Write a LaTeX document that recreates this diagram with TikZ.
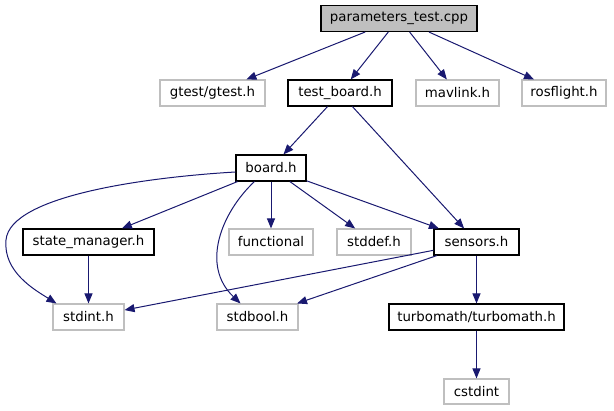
\documentclass[tikz,border=0pt]{standalone}
\usepackage{fontspec}
\setmainfont{DejaVu Sans}
\usetikzlibrary{arrows.meta,calc}
\definecolor{edgecol}{HTML}{191970}
\definecolor{graybd}{HTML}{BFBFBF}
\tikzset{
  box/.style={draw=black, line width=1.1pt, inner sep=0pt, font=\fontsize{13.33}{16}\selectfont, fill=white},
  ext/.style={draw=graybd, line width=1.1pt, inner sep=0pt, font=\fontsize{13.33}{16}\selectfont, fill=white},
  root/.style={box, fill=graybd},
  dep/.style={draw=edgecol, line width=1pt, -{Triangle[length=10pt,width=8pt]}}
}
\begin{document}
\begin{tikzpicture}[x=1pt,y=-1pt]
\useasboundingbox (0,0) rectangle (614,411);
% row 1
\node[root, minimum width=156pt, minimum height=26pt] (p) at (399,18.5) {parameters\_test.cpp};
% row 2
\node[ext, minimum width=105pt, minimum height=26pt] (g) at (212.5,93) {gtest/gtest.h};
\node[box, minimum width=104pt, minimum height=26pt] (tb) at (340,93) {test\_board.h};
\node[ext, minimum width=83pt, minimum height=26pt] (mv) at (457.5,93) {mavlink.h};
\node[ext, minimum width=84pt, minimum height=26pt] (rf) at (564,93) {rosflight.h};
% row 3
\node[box, minimum width=70pt, minimum height=26pt] (b) at (271,168) {board.h};
% row 4
\node[box, minimum width=131pt, minimum height=26pt] (sm) at (88.5,242) {state\_manager.h};
\node[ext, minimum width=84pt, minimum height=26pt] (fn) at (271,242) {functional};
\node[ext, minimum width=74pt, minimum height=26pt] (sd) at (374,242) {stddef.h};
\node[box, minimum width=85pt, minimum height=26pt] (se) at (476.5,242) {sensors.h};
% row 5
\node[ext, minimum width=71pt, minimum height=26pt] (si) at (88.5,317) {stdint.h};
\node[ext, minimum width=81pt, minimum height=26pt] (sb) at (257.5,317) {stdbool.h};
\node[box, minimum width=175pt, minimum height=26pt] (tm) at (476.5,317) {turbomath/turbomath.h};
% row 6
\node[ext, minimum width=65pt, minimum height=25pt] (cs) at (476.5,391.5) {cstdint};
% edges
\draw[dep] (p) -- (g);
\draw[dep] (p) -- (tb);
\draw[dep] (p) -- (mv);
\draw[dep] (p) -- (rf);
\draw[dep] (tb) -- (b);
\draw[dep] (tb) -- (se);
\draw[dep] ($(b.west)+(0,4)$) .. controls (150,177) and (10,195) .. (6,240) .. controls (3,272) and (35,290) .. ($(si.north west)+(4,0)$);
\draw[dep] (b) -- (sm);
\draw[dep] ($(b.south west)+(19,0)$) .. controls (222,212) and (200,265) .. ($(sb.north)+(-17,0)$);
\draw[dep] (b) -- (fn);
\draw[dep] (b) -- (sd);
\draw[dep] (b) -- (se);
\draw[dep] (sm) -- (si);
\draw[dep] (se) -- (si);
\draw[dep] (se) -- (sb);
\draw[dep] (se) -- (tm);
\draw[dep] (tm) -- (cs);
\end{tikzpicture}
\end{document}
